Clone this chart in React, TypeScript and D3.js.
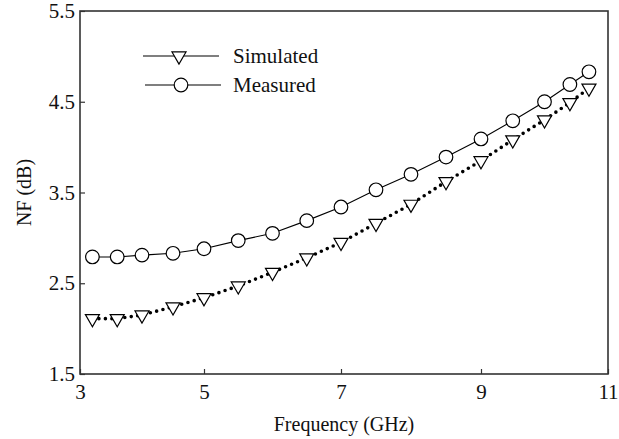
import React, { useEffect, useRef } from "react";
import * as d3 from "d3";

// datos
const frequency = [3.2, 3.6, 4.0, 4.5, 5.0, 5.5, 6.0, 6.5, 7.0, 7.5, 8.0, 8.5, 9.0, 9.5, 10.0, 10.4, 10.7];
const measured = [2.79, 2.79, 2.81, 2.83, 2.88, 2.97, 3.05, 3.19, 3.34, 3.53, 3.7, 3.89, 4.09, 4.29, 4.5, 4.69, 4.83];
const simulated = [2.11, 2.11, 2.15, 2.24, 2.34, 2.47, 2.62, 2.78, 2.95, 3.16, 3.37, 3.62, 3.85, 4.08, 4.3, 4.49, 4.65];
const xTicks = [3, 5, 7, 9, 11];
const yTicks = [1.5, 2.5, 3.5, 4.5, 5.5];
const legendLabels = ["Simulated", "Measured"];

const W = 619;
const H = 439;
const font = "'Liberation Serif', 'Times New Roman', serif";

const App = () => {
  const svgRef = useRef<SVGSVGElement | null>(null);

  useEffect(() => {
    const root = d3.select(svgRef.current);
    root.selectAll("*").remove();
    const svg = root.append("g");

    const left = 80;
    const right = 608;
    const top = 11;
    const bottom = 374;

    // el eje x original no es del todo uniforme
    const x = d3.scaleLinear().domain(xTicks).range([left, 204, 341, 481, right]);
    const y = d3.scaleLinear().domain([1.5, 5.5]).range([bottom, top]);

    const axisColor = "#333";

    // ejes
    const gx = svg
      .append("g")
      .attr("transform", `translate(0,${bottom})`)
      .call(d3.axisBottom(x).tickValues(xTicks).tickSizeInner(-5).tickSizeOuter(0).tickPadding(10).tickFormat(d3.format("d")));
    const gy = svg
      .append("g")
      .attr("transform", `translate(${left},0)`)
      .call(d3.axisLeft(y).tickValues(yTicks).tickSizeInner(-5).tickSizeOuter(0).tickPadding(5).tickFormat(d3.format(".1f")));
    [gx, gy].forEach((g) => {
      g.select(".domain").remove();
      g.selectAll("line").attr("stroke", axisColor).attr("stroke-width", 1.2);
      g.selectAll("text").attr("fill", "#111").style("font-family", font).style("font-size", "21px");
    });

    svg
      .append("rect")
      .attr("x", left)
      .attr("y", top)
      .attr("width", right - left)
      .attr("height", bottom - top)
      .attr("fill", "none")
      .attr("stroke", axisColor)
      .attr("stroke-width", 1.6);

    // títulos
    svg
      .append("text")
      .attr("x", (left + right) / 2)
      .attr("y", 431)
      .attr("text-anchor", "middle")
      .style("font-family", font)
      .style("font-size", "20px")
      .attr("fill", "#111")
      .text("Frequency (GHz)");
    svg
      .append("text")
      .attr("transform", `translate(31,${(top + bottom) / 2}) rotate(-90)`)
      .attr("text-anchor", "middle")
      .style("font-family", font)
      .style("font-size", "20px")
      .attr("fill", "#111")
      .text("NF (dB)");

    const line = d3.line<number>().x((_, i) => x(frequency[i])).y((d) => y(d));

    // líneas
    svg
      .append("path")
      .attr("d", line(simulated))
      .attr("fill", "none")
      .attr("stroke", "#000")
      .attr("stroke-width", 3.6)
      .attr("stroke-linecap", "round")
      .attr("stroke-dasharray", "0 6.5");
    svg
      .append("path")
      .attr("d", line(measured))
      .attr("fill", "none")
      .attr("stroke", "#000")
      .attr("stroke-width", 1.1);

    const tri = d3.symbol().type(d3.symbolTriangle).size(85);

    // marcadores
    svg
      .selectAll(".tri")
      .data(simulated)
      .enter()
      .append("path")
      .attr("class", "tri")
      .attr("d", tri())
      .attr("transform", (d, i) => `translate(${x(frequency[i])},${y(d)}) rotate(180)`)
      .attr("fill", "#fff")
      .attr("stroke", "#000")
      .attr("stroke-width", 1.2);
    svg
      .selectAll(".circ")
      .data(measured)
      .enter()
      .append("circle")
      .attr("class", "circ")
      .attr("cx", (_, i) => x(frequency[i]))
      .attr("cy", (d) => y(d))
      .attr("r", 6.8)
      .attr("fill", "#fff")
      .attr("stroke", "#000")
      .attr("stroke-width", 1.2);

    // leyenda
    const legend = svg.append("g");
    legendLabels.forEach((label, i) => {
      const ly = 56 + i * 29;
      const lx = 143 + i * 2;
      legend
        .append("line")
        .attr("x1", lx)
        .attr("x2", lx + 76)
        .attr("y1", ly)
        .attr("y2", ly)
        .attr("stroke", "#000")
        .attr("stroke-width", 1.1);
      if (i === 0) {
        legend
          .append("path")
          .attr("d", tri())
          .attr("transform", `translate(${lx + 36},${ly}) rotate(180)`)
          .attr("fill", "#fff")
          .attr("stroke", "#000")
          .attr("stroke-width", 1.2);
      } else {
        legend
          .append("circle")
          .attr("cx", lx + 36)
          .attr("cy", ly)
          .attr("r", 6.8)
          .attr("fill", "#fff")
          .attr("stroke", "#000")
          .attr("stroke-width", 1.2);
      }
      legend
        .append("text")
        .attr("x", 233)
        .attr("y", ly + 7)
        .style("font-family", font)
        .style("font-size", "21px")
        .attr("fill", "#111")
        .text(label);
    });
  }, []);

  return (
    <>
      <style>{`body{margin:0}`}</style>
      <svg ref={svgRef} width={W} height={H} style={{ display: "block", background: "#fff" }}></svg>
    </>
  );
};

export default App;
